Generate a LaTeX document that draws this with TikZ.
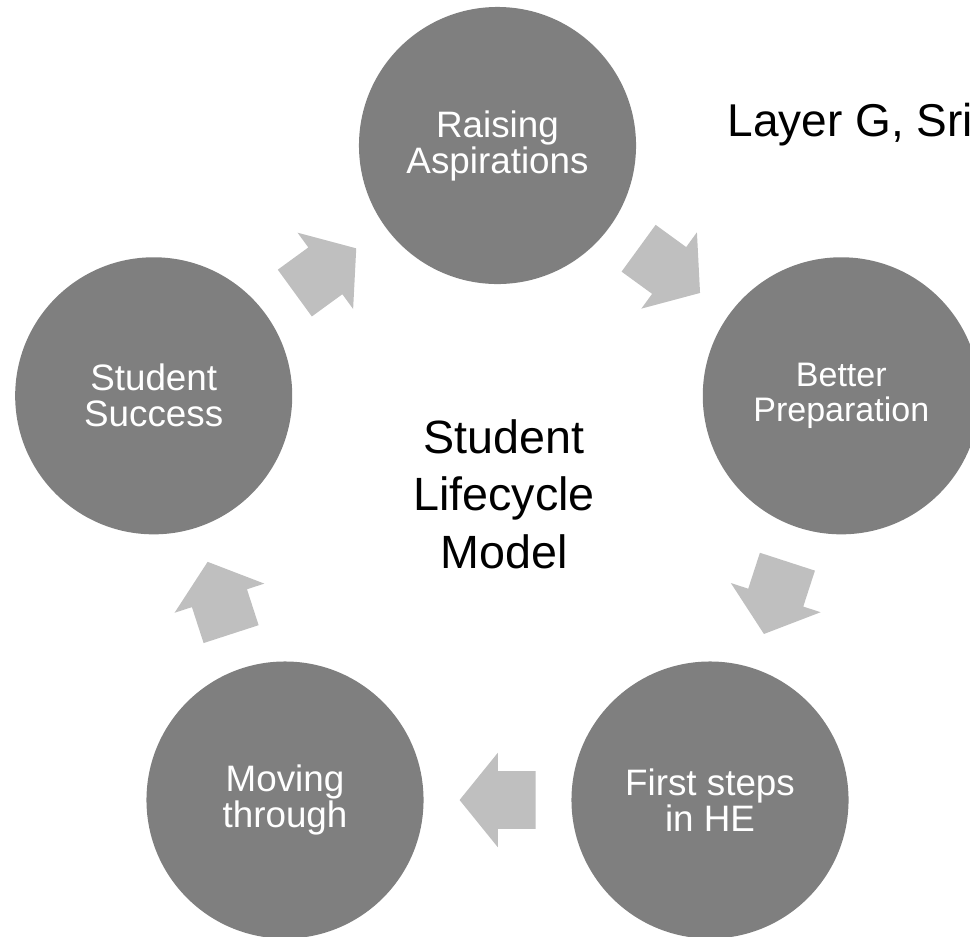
\documentclass[tikz,border=0pt]{standalone}
\usepackage{fontspec}
\setmainfont{Liberation Sans}
\usetikzlibrary{shapes.arrows}
\definecolor{stagegray}{HTML}{7F7F7F}
\definecolor{arrowgray}{HTML}{BFBFBF}

\begin{document}
\begin{tikzpicture}[x=0.75pt, y=-0.75pt,
  stage/.style={circle, fill=stagegray, minimum size=207.8pt, inner sep=0pt,
    text=white, align=center, font=\fontsize{27.6}{27}\selectfont},
  cyclearrow/.style={single arrow, fill=arrowgray, draw=none, inner xsep=0pt,
    inner ysep=21.5pt, minimum height=57pt, single arrow head extend=13.7pt,
    single arrow tip angle=102, sloped, allow upside down, pos=0.42}
]
\useasboundingbox (0,0) rectangle (970,936);
\clip (0,0) rectangle (970,936);

\node[stage] (raising) at (497.5,145.5) {Raising\\Aspirations};
\node[stage, font=\fontsize{25.5}{26}\selectfont] (preparation) at (841.3,395.8)
  {Better\\Preparation};
\node[stage] (firststeps) at (710,800) {First steps\\in HE};
\node[stage] (moving) at (285,800) {Moving\\through};
\node[stage] (success) at (153.7,395.8) {Student\\Success};

\node[align=center, font=\fontsize{35}{43}\selectfont] (lifecycle) at (504,494)
  {Student\\Lifecycle\\Model};
\node[anchor=base west, font=\fontsize{34.5}{41}\selectfont] (citation) at (723,136)
  {Layer G, Sri};

\path (success) -- node[cyclearrow] {} (raising);
\path (raising) -- node[cyclearrow] {} (preparation);
\path (preparation) -- node[cyclearrow] {} (firststeps);
\path (firststeps) -- node[cyclearrow] {} (moving);
\path (moving) -- node[cyclearrow] {} (success);

\end{tikzpicture}
\end{document}
